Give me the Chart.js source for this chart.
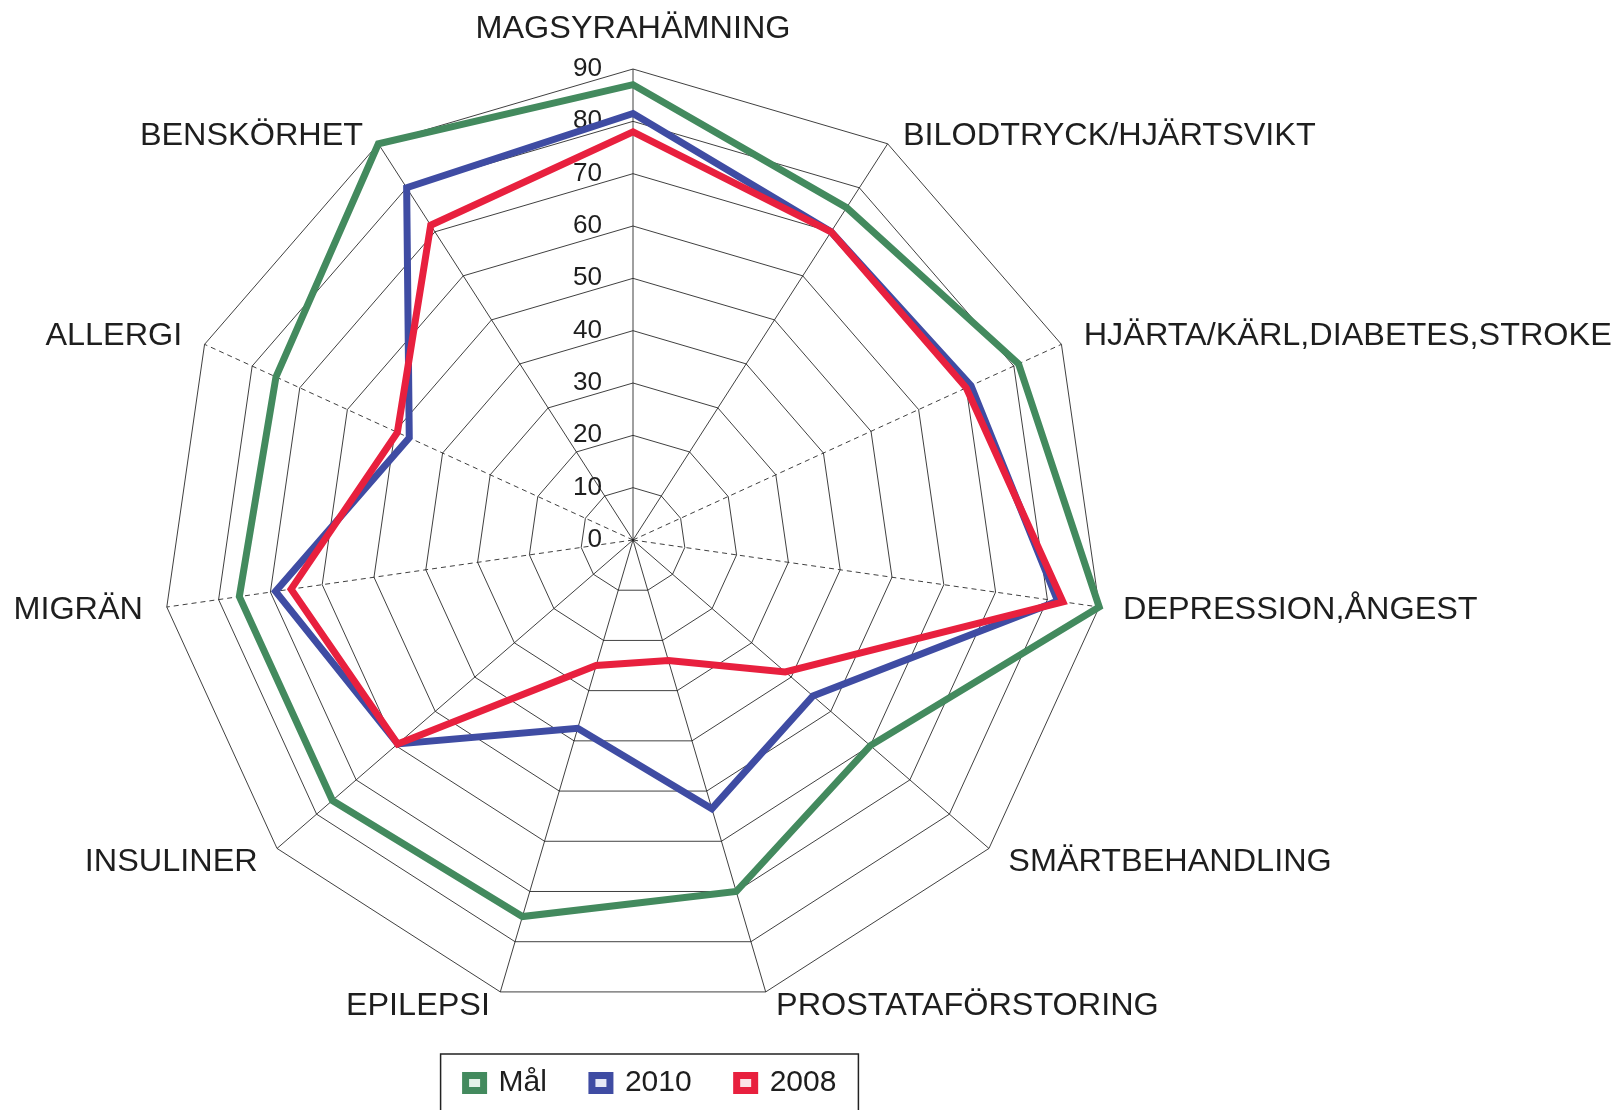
<!DOCTYPE html>
<html>
<head>
<meta charset="utf-8">
<script src="https://cdn.jsdelivr.net/npm/chart.js@4.4.1/dist/chart.umd.min.js"></script>
<style>
  html, body { margin: 0; padding: 0; background: #ffffff; }
  canvas { display: block; }
</style>
</head>
<body>
<canvas id="c" width="1615" height="1110"></canvas>
<script>
// ---- data ----
const categories = [
  "MAGSYRAHÄMNING",
  "BILODTRYCK/HJÄRTSVIKT",
  "HJÄRTA/KÄRL,DIABETES,STROKE",
  "DEPRESSION,ÅNGEST",
  "SMÄRTBEHANDLING",
  "PROSTATAFÖRSTORING",
  "EPILEPSI",
  "INSULINER",
  "MIGRÄN",
  "ALLERGI",
  "BENSKÖRHET"
];
const seriesNames = ["Mål", "2010", "2008"];
const malValues  = [87, 75.5, 81, 90, 60, 70, 75, 76, 76, 75, 90];
const values2010 = [81.5, 70, 71, 82, 45.5, 53.5, 37.5, 59.5, 69, 47, 80];
const values2008 = [78, 70, 70, 83, 38.5, 24, 25, 59.5, 66, 49.5, 71.5];
const scaleMin = 0;
const scaleMax = 90;
const scaleStep = 10;
const dashedSpokes = [2, 3, 8, 9];

// ---- styling ----
const FONT = "'Liberation Sans', Arial, Helvetica, sans-serif";
const TEXT = '#1e1e1e';
const GRID = 'rgba(30,30,30,0.85)';
const STRETCH = 1.045;
const LEGEND_SHIFT = 18;

function stretchedText(ctx, txt, x, y) {
  ctx.save();
  ctx.translate(x, y);
  ctx.scale(STRETCH, 1);
  ctx.fillText(txt, 0, 0);
  ctx.restore();
}

const textPlugin = {
  id: 'radarText',
  afterLayout(chart) {
    // nudge the legend box to the right, as in the original
    chart.legend.left += LEGEND_SHIFT;
    chart.legend.right += LEGEND_SHIFT;
  },
  beforeDatasetsDraw(chart) {
    const s = chart.scales.r;
    const ctx = chart.ctx;
    ctx.save();
    ctx.fillStyle = TEXT;
    ctx.font = '25px ' + FONT;
    ctx.textAlign = 'right';
    ctx.textBaseline = 'middle';
    s.ticks.forEach(t => {
      const d = s.getDistanceFromCenterForValue(t.value);
      stretchedText(ctx, String(t.value), s.xCenter - 31, s.yCenter - d);
    });
    ctx.restore();
  },
  afterDraw(chart) {
    const s = chart.scales.r;
    const ctx = chart.ctx;
    ctx.save();
    ctx.fillStyle = TEXT;
    ctx.font = '31px ' + FONT;
    ctx.textBaseline = 'alphabetic';
    const R = s.drawingArea;
    categories.forEach((txt, i) => {
      const a = s.getIndexAngle(i);
      const sn = Math.sin(a), cs = Math.cos(a);
      const p = s.getPointPosition(i, R);
      let x = p.x, y = p.y;
      if (Math.abs(sn) < 0.1) {
        ctx.textAlign = 'center';
        y -= 31;
      } else {
        ctx.textAlign = sn > 0 ? 'left' : 'right';
        x += Math.sign(sn) * (5 + 19 * Math.abs(sn));
        if (cs > 0.3) y += 1;
        else if (cs > -0.3) y += 12;
        else y += 23;
      }
      stretchedText(ctx, txt, x, y);
    });
    // frame around the legend
    const hb = chart.legend.legendHitBoxes;
    if (hb && hb.length) {
      const last = hb[hb.length - 1];
      const l = hb[0].left - 25;
      const r = last.left + last.width + 22;
      const t = hb[0].top - 14;
      ctx.strokeStyle = '#222';
      ctx.lineWidth = 1.5;
      ctx.strokeRect(l, t, r - l, chart.height - t + 20);
    }
    ctx.restore();
  }
};

const ds = (label, data, color, fillCol, order) => ({
  label, data,
  borderColor: color,
  backgroundColor: fillCol,
  borderWidth: 7,
  borderJoinStyle: 'miter',
  pointRadius: 0,
  pointHoverRadius: 0,
  fill: false,
  tension: 0,
  order
});

new Chart(document.getElementById('c'), {
  type: 'radar',
  data: {
    labels: categories,
    datasets: [
      ds(seriesNames[0], malValues,  '#438a5e', '#e4f2e9', 3),
      ds(seriesNames[1], values2010, '#3f4ca3', '#e6e8f6', 2),
      ds(seriesNames[2], values2008, '#e8203e', '#fbe3e7', 1)
    ]
  },
  options: {
    responsive: false,
    animation: false,
    devicePixelRatio: 1,
    layout: { padding: { left: 162, right: 511, top: 58, bottom: 2 } },
    plugins: {
      legend: {
        position: 'bottom',
        labels: {
          font: { size: 30, family: FONT },
          color: TEXT,
          boxWidth: 18,
          boxHeight: 15,
          padding: 45,
          sort: (a, b) => a.datasetIndex - b.datasetIndex
        }
      },
      tooltip: { enabled: false }
    },
    scales: {
      r: {
        min: scaleMin,
        max: scaleMax,
        beginAtZero: true,
        ticks: { display: false, stepSize: scaleStep },
        pointLabels: { display: false },
        grid: { color: GRID, lineWidth: 1 },
        angleLines: {
          color: GRID,
          lineWidth: 1,
          borderDash: (ctx) => dashedSpokes.includes(ctx.index) ? [5, 4] : []
        }
      }
    }
  },
  plugins: [textPlugin]
});
</script>
</body>
</html>
